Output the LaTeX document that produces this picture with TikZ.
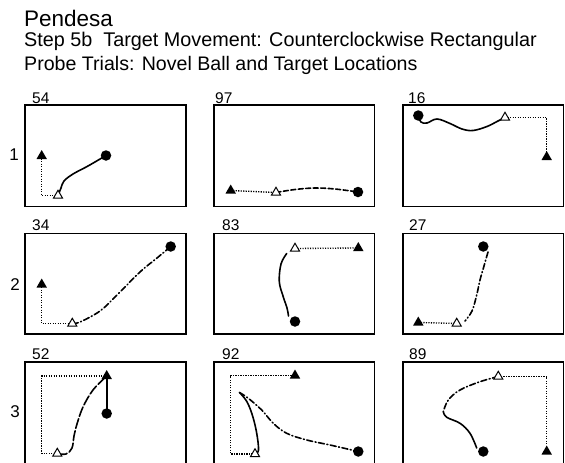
\documentclass[tikz,border=0pt]{standalone}
\usepackage{fontspec}
\setmainfont{Liberation Sans}
\usetikzlibrary{shapes.geometric}
\tikzset{
  frame/.style={draw, line width=1.2pt},
  ftri/.style={regular polygon, regular polygon sides=3, fill=black, inner sep=0pt, minimum size=12pt},
  otri/.style={regular polygon, regular polygon sides=3, draw, fill=white, line width=1pt, inner sep=0pt, minimum size=10.5pt},
  ball/.style={circle, fill=black, inner sep=0pt, minimum size=10.5pt},
  tpath/.style={line width=1.35pt, dash pattern=on 1.2pt off 1.3pt},
  traj/.style={line width=1.6pt, line cap=round},
  trajdash/.style={traj, dash pattern=on 5pt off 2.5pt},
  trajdd/.style={traj, dash pattern=on 6pt off 2.5pt on 1pt off 2.5pt},
  trajlong/.style={traj, dash pattern=on 10pt off 2.5pt},
  lbl/.style={anchor=base west, inner sep=0pt, font=\fontsize{15.5}{17}\selectfont},
  rowlbl/.style={inner sep=0pt, font=\fontsize{17}{19}\selectfont}
}
\begin{document}
\begin{tikzpicture}[x=1pt, y=-1pt]
\useasboundingbox (0,0) rectangle (565,463);

% titles
\node[anchor=base west, inner sep=0pt, font=\fontsize{22.5}{26}\selectfont] (title) at (24,26.7) {Pendesa};
\node[anchor=base west, inner sep=0pt, font=\fontsize{19.8}{23}\selectfont] (sub1) at (24,46.7) {Step 5b\ \ Target Movement: Counterclockwise Rectangular};
\node[anchor=base west, inner sep=0pt, font=\fontsize{19.6}{23}\selectfont] (sub2) at (24,70) {Probe Trials: Novel Ball and Target Locations};

% frames
\draw[frame] (25,105) rectangle (186,206.5);
\draw[frame] (214,105) rectangle (374.5,206.5);
\draw[frame] (403,105) rectangle (563.5,206.5);
\draw[frame] (25,233.5) rectangle (186,334);
\draw[frame] (214,233.5) rectangle (374.5,334);
\draw[frame] (403,233.5) rectangle (563.5,334);
\draw[frame] (25,362) rectangle (186,466);
\draw[frame] (214,362) rectangle (374.5,466);
\draw[frame] (403,362) rectangle (563.5,466);

% trial numbers
\node[lbl] (n54) at (32,103) {54};
\node[lbl] (n97) at (215,103) {97};
\node[lbl] (n16) at (408,103) {16};
\node[lbl] (n34) at (32,230.5) {34};
\node[lbl] (n83) at (222,230.5) {83};
\node[lbl] (n27) at (409,230.5) {27};
\node[lbl] (n52) at (32,359) {52};
\node[lbl] (n92) at (222,359) {92};
\node[lbl] (n89) at (409,359) {89};

% row labels
\node[rowlbl] (r1) at (14,155) {1};
\node[rowlbl] (r2) at (15,285) {2};
\node[rowlbl] (r3) at (15,412) {3};

% ---------- positions
\coordinate (A1t) at (41.7,156);   \coordinate (A1o) at (58,195.5);   \coordinate (A1b) at (106,155.5);
\coordinate (B1t) at (230.7,190.5); \coordinate (B1o) at (276,192.5); \coordinate (B1b) at (358,192);
\coordinate (C1b) at (418.3,115.5); \coordinate (C1o) at (505,117.5); \coordinate (C1t) at (546.7,157);
\coordinate (A2t) at (41.7,284.5);  \coordinate (A2o) at (72.3,323.5); \coordinate (A2b) at (170.7,246.5);
\coordinate (B2o) at (295,248.5);   \coordinate (B2t) at (358.3,248);  \coordinate (B2b) at (295,321.5);
\coordinate (C2b) at (483.3,246.5); \coordinate (C2o) at (456.7,323.5); \coordinate (C2t) at (418.3,322.5);
\coordinate (A3t) at (106.7,376);   \coordinate (A3o) at (57.3,453.5); \coordinate (A3b) at (106.7,413.5);
\coordinate (B3o) at (255,454);     \coordinate (B3t) at (295,375.5);  \coordinate (B3b) at (358.3,451.5);
\coordinate (C3o) at (498.3,376.5); \coordinate (C3t) at (546.7,451.5); \coordinate (C3b) at (483.3,451.5);

% ---------- target paths (dotted)
\draw[tpath] (A1t) |- (A1o);
\draw[tpath] (B1t) -- (B1o);
\draw[tpath] (C1o) -| (C1t);
\draw[tpath] (A2t) |- (A2o);
\draw[tpath] (B2o) -- (B2t);
\draw[tpath] (C2t) -- (C2o);
\draw[tpath] (A3o) -- ++(-15.6,0) |- (A3t);
\draw[tpath] (B3o) -- ++(-24.3,0) |- (B3t);
\draw[tpath] (C3o) -| (C3t);

% ---------- ball trajectories
\draw[traj] plot[smooth, tension=0.6] coordinates {(A1o) (61,188) (64,181) (73,174) (88,166) (A1b)};
\draw[trajdash] plot[smooth, tension=0.6] coordinates {(B1o) (295,189.5) (315,188) (335,189) (B1b)};
\draw[traj] plot[smooth, tension=0.6] coordinates {(C1b) (421,122) (427,123) (437,119) (450,123.5) (462,129) (473,130.5) (487,126.5) (497,121.5) (C1o)};
\draw[trajdd] plot[smooth, tension=0.6] coordinates {(A2o) (80,322) (100,311) (117,295) (140,272) (157,258) (A2b)};
\draw[traj] plot[smooth, tension=0.6] coordinates {(286.7,253.5) (281,264) (279.3,281.7) (283,296) (287,308) (288.5,316)};
\draw[trajdd] plot[smooth, tension=0.6] coordinates {(488,252) (484,266) (480,280) (476.7,295) (472,311) (465,321)};
\draw[traj] (A3b) -- (A3t);
\draw[trajlong] plot[smooth, tension=0.6] coordinates {(A3o) (66,454) (72,448) (74,436) (77,424) (83,407) (93,390) (A3t)};
\draw[traj] plot[smooth, tension=0.6] coordinates {(B3o) (258.5,450) (256.5,432) (252,414) (246.5,401) (239.5,392.5)};
\draw[trajdd] plot[smooth, tension=0.6] coordinates {(239.5,392.5) (248.3,398.3) (261.7,410) (273.3,423.3) (286.7,433.3) (306.7,440) (330,445) (B3b)};
\draw[trajdd] plot[smooth, tension=0.6] coordinates {(C3o) (480,381.7) (460,390) (448.3,400) (443.3,411.7)};
\draw[traj] plot[smooth, tension=0.6] coordinates {(443.3,411.7) (446.7,417.3) (460,423.3) (470,433.3) (476.7,448)};

% ---------- markers
\foreach \p in {A1,B1,C1,A2,B2,C2,A3,B3,C3}{
  \node[ftri] (\p tm) at (\p t) {};
  \node[otri] (\p om) at (\p o) {};
  \node[ball] (\p bm) at (\p b) {};
}
\end{tikzpicture}
\end{document}
